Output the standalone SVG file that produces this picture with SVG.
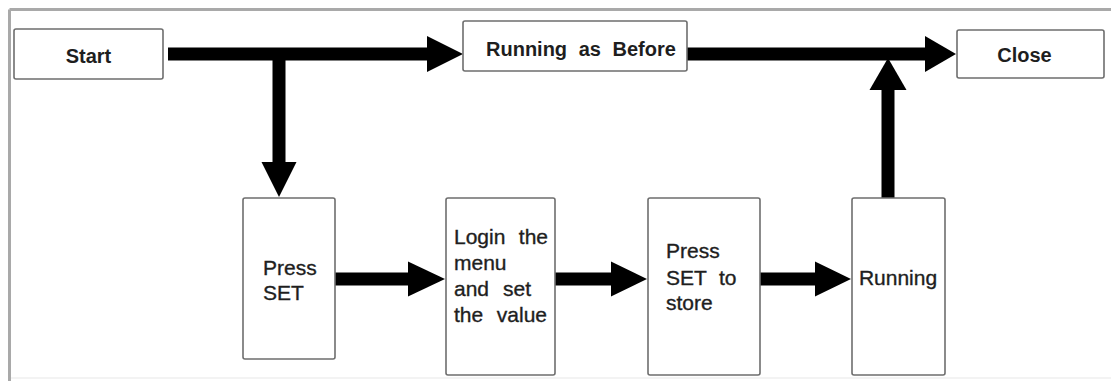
<svg xmlns="http://www.w3.org/2000/svg" width="1111" height="381" viewBox="0 0 1111 381">
  <style>
    .box { fill: #ffffff; stroke: #6e6e6e; stroke-width: 1.6; }
    .lbl { font-family: "Liberation Sans", Arial, sans-serif; fill: #1e1e1e; }
    .top { font-size: 20px; font-weight: bold; }
    .low { font-size: 21px; stroke: #1e1e1e; stroke-width: 0.35; }
    .shaft { fill: none; stroke: #000000; stroke-width: 13; }
    .head { fill: #000000; }
  </style>

  <!-- page background and frame -->
  <rect x="0" y="0" width="1111" height="381" fill="#ffffff"/>
  <line x1="9.5" y1="9.5" x2="1111" y2="9.5" stroke="#a9a9a9" stroke-width="3"/>
  <line x1="9.5" y1="9.5" x2="9.5" y2="381" stroke="#a9a9a9" stroke-width="3"/>
  <line x1="11" y1="378" x2="1111" y2="378" stroke="#f3f3f3" stroke-width="2"/>

  <!-- connectors -->
  <g id="connectors">
    <!-- Start -> Running as Before -->
    <line class="shaft" x1="168" y1="54" x2="430" y2="54"/>
    <polygon class="head" points="427,36 463,54 427,72"/>
    <!-- branch down to Press SET -->
    <line class="shaft" x1="279" y1="54" x2="279" y2="165" stroke-width="12"/>
    <polygon class="head" points="261.5,162 296.5,162 279,197"/>
    <!-- Running as Before -> Close -->
    <line class="shaft" x1="687" y1="54" x2="928" y2="54"/>
    <polygon class="head" points="925,36 956,54 925,72"/>
    <!-- Running up to main line -->
    <line class="shaft" x1="888" y1="198" x2="888" y2="87" stroke-width="12"/>
    <polygon class="head" points="869.5,90 906.5,90 888,58"/>
    <!-- Press SET -> Login -->
    <line class="shaft" x1="335" y1="279" x2="411" y2="279" stroke-width="12"/>
    <polygon class="head" points="408,261.5 445,279 408,296.5"/>
    <!-- Login -> Press SET to store -->
    <line class="shaft" x1="555" y1="279" x2="614" y2="279" stroke-width="12"/>
    <polygon class="head" points="611,261.5 647,279 611,296.5"/>
    <!-- Press SET to store -> Running -->
    <line class="shaft" x1="760" y1="279" x2="818" y2="279" stroke-width="12"/>
    <polygon class="head" points="815,261.5 851,279 815,296.5"/>
  </g>

  <g id="start">
    <rect class="box" x="14" y="29" width="149" height="50" rx="2"/>
    <text class="lbl top" x="88.5" y="63" text-anchor="middle">Start</text>
  </g>

  <g id="running-as-before">
    <rect class="box" x="463" y="21" width="224" height="50" rx="2"/>
    <text class="lbl top" x="486" y="56" word-spacing="6">Running as Before</text>
  </g>

  <g id="close">
    <rect class="box" x="957" y="30" width="147" height="48" rx="2"/>
    <text class="lbl top" x="1024.5" y="62" text-anchor="middle">Close</text>
  </g>

  <g id="press-set">
    <rect class="box" x="243" y="198" width="92" height="161" rx="2"/>
    <text class="lbl low" x="263" y="275">Press</text>
    <text class="lbl low" x="263" y="300">SET</text>
  </g>

  <g id="login-menu">
    <rect class="box" x="446" y="198" width="109" height="177" rx="2"/>
    <text class="lbl low" y="244"><tspan x="454">Login</tspan><tspan x="548" text-anchor="end">the</tspan></text>
    <text class="lbl low" x="454" y="270">menu</text>
    <text class="lbl low" y="296"><tspan x="454">and</tspan><tspan x="503">set</tspan></text>
    <text class="lbl low" y="322"><tspan x="454">the</tspan><tspan x="547" text-anchor="end">value</tspan></text>
  </g>

  <g id="press-set-store">
    <rect class="box" x="648" y="198" width="112" height="177" rx="2"/>
    <text class="lbl low" x="666" y="258">Press</text>
    <text class="lbl low" y="285"><tspan x="666">SET</tspan><tspan x="719">to</tspan></text>
    <text class="lbl low" x="666" y="310">store</text>
  </g>

  <g id="running">
    <rect class="box" x="852" y="198" width="93" height="177" rx="2"/>
    <text class="lbl low" x="898" y="285" text-anchor="middle">Running</text>
  </g>
</svg>
